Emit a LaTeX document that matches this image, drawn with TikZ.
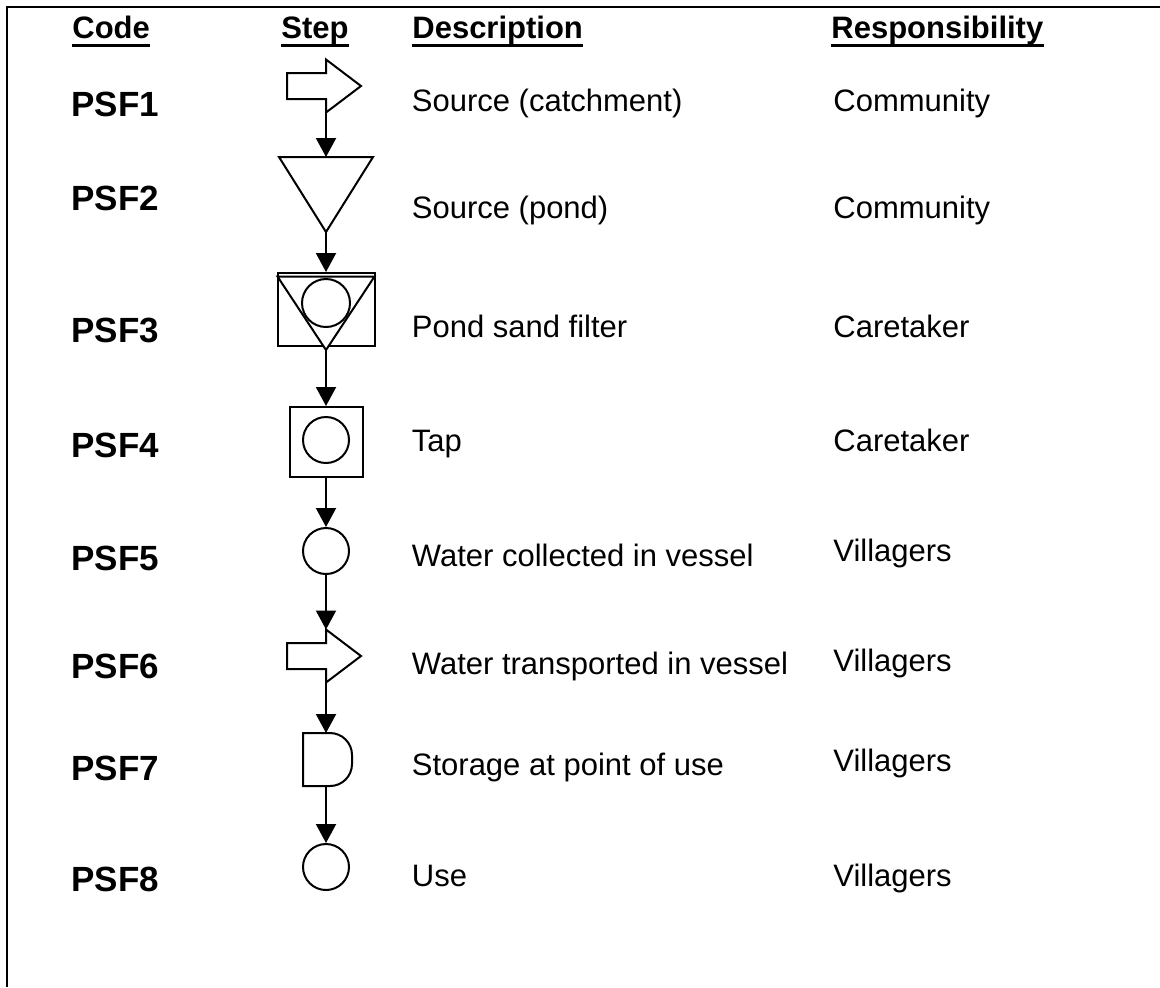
\documentclass[tikz,border=0pt]{standalone}
\usepackage{fontspec}
\setmainfont{Liberation Sans}
\usetikzlibrary{positioning}
\usetikzlibrary{arrows.meta}
\tikzset{
        txt/.style={inner sep=0pt, anchor=base west, font=\fontsize{15.5pt}{18pt}\selectfont},
        % Column headings
        heading/.style={txt, font=\fontsize{15.5pt}{18pt}\selectfont\bfseries},
        % Step codes
        codetext/.style={txt, font=\fontsize{17.5pt}{20pt}\selectfont\bfseries},
        % Step symbols
        sym/.style={draw=black, line width=1pt, fill=white, inner sep=0pt},
        symcircle/.style={sym, circle, minimum size=23pt},
        symbox/.style={sym, rectangle},
        % Flow lines
        flow/.style={line width=1pt, -{Triangle[length=9.5pt,width=10pt]}},
        uline/.style={line width=1.25pt},
        outline/.style={line width=1.25pt}
}

\begin{document}
\begin{tikzpicture}[x=0.5pt, y=0.5pt]
    \useasboundingbox (0,0) rectangle (1160,-987);
    \draw[outline] (1160,-7) -- (7,-7) -- (7,-987);

    % headings
    \node[heading] (hcode) at (72,-38) {Code};
    \node[heading] (hstep) at (281,-38) {Step};
    \node[heading] (hdesc) at (412,-38) {Description};
    \node[heading] (hresp) at (831,-38) {Responsibility};
    \foreach \h in {hcode,hstep,hdesc,hresp}
        \draw[uline] ([yshift=-3.75pt]\h.base west) -- ([yshift=-3.75pt]\h.base east);

    % codes
    \node[codetext] (c1) at (71,-116) {PSF1};
    \node[codetext] (c2) at (71,-210) {PSF2};
    \node[codetext] (c3) at (71,-342) {PSF3};
    \node[codetext] (c4) at (71,-457) {PSF4};
    \node[codetext] (c5) at (71,-570) {PSF5};
    \node[codetext] (c6) at (71,-678) {PSF6};
    \node[codetext] (c7) at (71,-780) {PSF7};
    \node[codetext] (c8) at (71,-891) {PSF8};

    % descriptions
    \node[txt] (d1) at (411.5,-111) {Source (catchment)};
    \node[txt] (d2) at (411.5,-218) {Source (pond)};
    \node[txt] (d3) at (411.5,-337) {Pond sand filter};
    \node[txt] (d4) at (411.5,-451) {Tap};
    \node[txt] (d5) at (411.5,-566) {Water collected in vessel};
    \node[txt] (d6) at (411.5,-674) {Water transported in vessel};
    \node[txt] (d7) at (411.5,-775) {Storage at point of use};
    \node[txt] (d8) at (411.5,-886) {Use};

    % responsibility
    \node[txt] (r1) at (833,-111) {Community};
    \node[txt] (r2) at (833,-218) {Community};
    \node[txt] (r3) at (833,-337) {Caretaker};
    \node[txt] (r4) at (833,-451) {Caretaker};
    \node[txt] (r5) at (833,-561) {Villagers};
    \node[txt] (r6) at (833,-671) {Villagers};
    \node[txt] (r7) at (833,-771) {Villagers};
    \node[txt] (r8) at (833,-886) {Villagers};

    % PSF1 arrow
    \coordinate (s1) at (326,-86);
    \draw[sym] (s1) ++(0,13) -- ++(-39,0) -- ++(0,-26) -- ++(39,0) -- ++(0,-13.5) -- ++(35,26.5) -- ++(-35,26.5) -- cycle;
    \coordinate (s1out) at (326,-112.5);

    % PSF2 pond
    \draw[sym] (279,-157) -- (373,-157) -- (326,-232) -- cycle;
    \coordinate (s2in) at (326,-157);
    \coordinate (s2out) at (326,-232);

    % PSF3 filter
    \node[symbox, minimum width=48.5pt, minimum height=36.5pt] (s3) at (326,-309.5) {};
    \draw[sym] (277.5,-276.5) -- (374.5,-276.5) -- (326,-350) -- cycle;
    \node[symcircle, minimum size=24pt] (s3c) at (326,-303) {};
    \coordinate (s3out) at (326,-350);

    % PSF4 tap
    \node[symbox, minimum width=36.5pt, minimum height=35pt] (s4) at (326,-442) {};
    \node[symcircle] (s4c) at (326,-440) {};

    % PSF5 vessel
    \node[symcircle] (s5) at (326,-551) {};

    % PSF6 arrow
    \coordinate (s6) at (326,-656);
    \draw[sym] (s6) ++(0,13) -- ++(-39,0) -- ++(0,-26) -- ++(39,0) -- ++(0,-13.5) -- ++(35,26.5) -- ++(-35,26.5) -- cycle;
    \coordinate (s6in) at (326,-629.5);
    \coordinate (s6out) at (326,-682.5);

    % PSF7 storage
    \draw[sym] (303,-733) -- (330,-733) arc[start angle=90, end angle=0, radius=22]
        -- (352,-764) arc[start angle=0, end angle=-90, radius=22] -- (303,-786) -- cycle;
    \coordinate (s7in) at (326,-733);
    \coordinate (s7out) at (326,-786);

    % PSF8 use
    \node[symcircle] (s8) at (326,-867) {};

    % flow
    \draw[flow] (s1out) -- (s2in);
    \draw[flow] (s2out) -- (s3.north);
    \draw[flow] (s3out) -- (s4.north);
    \draw[flow] (s4.south) -- (s5.north);
    \draw[flow] (s5.south) -- (s6in);
    \draw[flow] (s6out) -- (s7in);
    \draw[flow] (s7out) -- (s8.north);
\end{tikzpicture}
\end{document}
